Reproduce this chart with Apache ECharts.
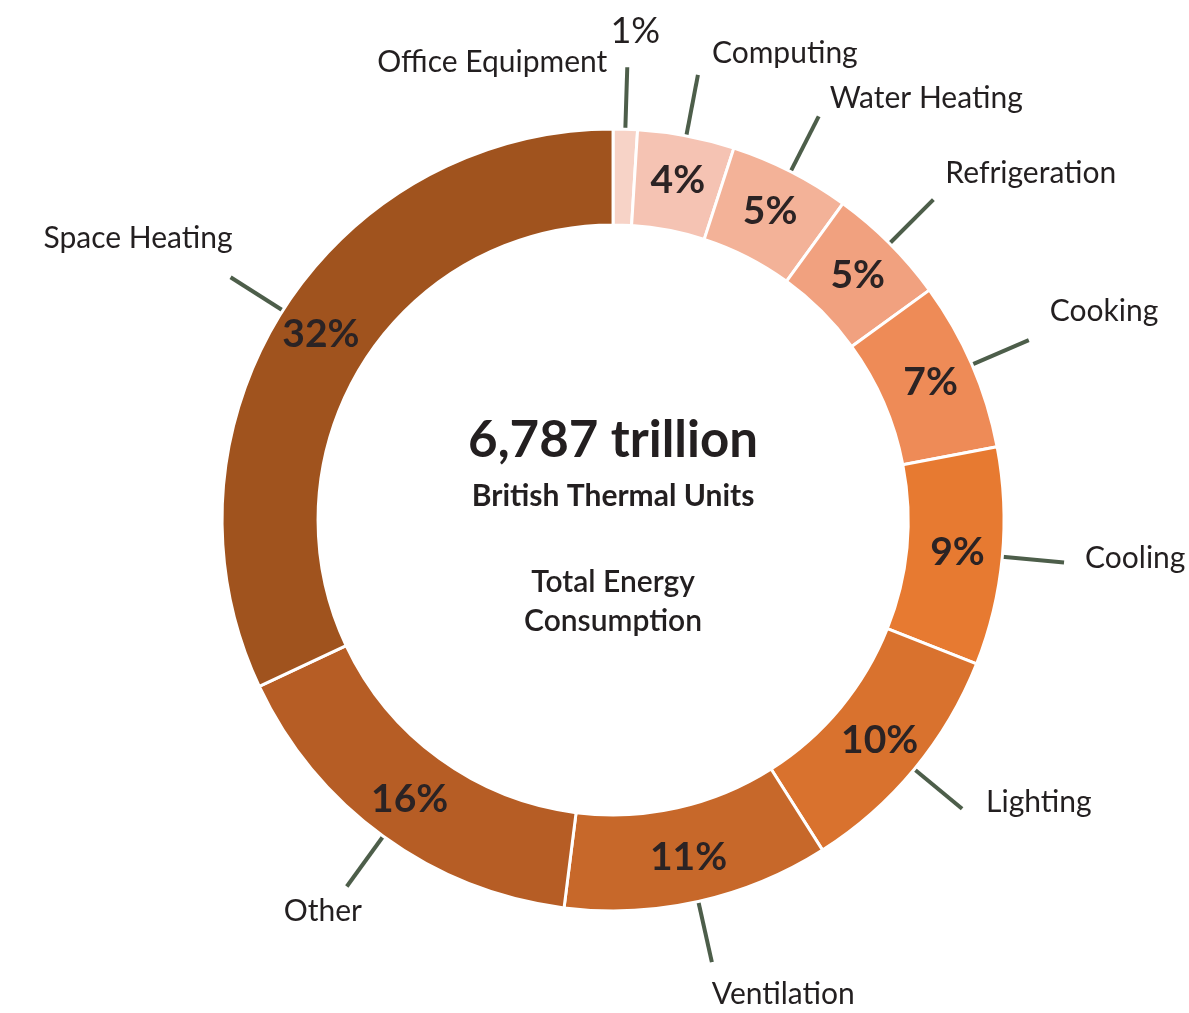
<!DOCTYPE html>
<html>
<head>
<meta charset="utf-8">
<script src="https://cdn.jsdelivr.net/npm/echarts@6/dist/echarts.min.js"></script>
<style>
  html, body { margin: 0; padding: 0; background: #ffffff; }
  #chart { width: 1189px; height: 1013px; }
</style>
</head>
<body>
<div id="chart"></div>
<script>
// ---- data ----
const categories = ['Office Equipment', 'Computing', 'Water Heating', 'Refrigeration', 'Cooking',
                    'Cooling', 'Lighting', 'Ventilation', 'Other', 'Space Heating'];
const shares = [1, 4, 5, 5, 7, 9, 10, 11, 16, 32];
const totalValue = '6,787 trillion';
const totalUnit = 'British Thermal Units';
const totalCaption = ['Total Energy', 'Consumption'];

// ---- styles ----
const colors = ['#f7d3c7', '#f5c3b3', '#f3b298', '#f1a17f', '#ee8b57',
                '#e77a31', '#d9722e', '#c7682a', '#b65d25', '#a0531e'];
// label anchor relative to end of leader line: [align, verticalAlign, dx, dy]
const nameAnchor = [
  ['right', 'middle', -20, -5],
  ['left', 'middle', 14, -22],
  ['left', 'middle', 11, -18],
  ['left', 'middle', 12, -26],
  ['left', 'middle', 21, -29],
  ['left', 'middle', 21, -4],
  ['left', 'middle', 24, -6],
  ['left', 'middle', 0, 32],
  ['center', 'middle', -24, 25],
  ['right', 'middle', 2, -39]
];
const smallPctAnchor = ['center', 'middle', 8, -36];

const FONT = 'Lato';
const center = ['51.56%', '51.33%'];

const chart = echarts.init(document.getElementById('chart'), null, { renderer: 'canvas' });

const mainData = categories.map((n, i) => ({ name: n, value: shares[i], itemStyle: { color: colors[i] } }));
const pctData = categories.map((n, i) => {
  const d = { name: n, value: shares[i] };
  if (i === 0) {
    d.label = { position: 'outside', fontWeight: 400, fontSize: 36, color: '#231f20' };
    d.labelLine = { show: true, length: 62, length2: 0, lineStyle: { width: 0, color: 'rgba(0,0,0,0)' } };
  }
  return d;
});

function anchorLayout(anchorFor) {
  return function (p) {
    const pts = p.labelLinePoints;
    const a = anchorFor(p.dataIndex);
    if (!pts || !a) return {};
    const end = pts[pts.length - 1];
    return { x: end[0] + a[2], y: end[1] + a[3], align: a[0], verticalAlign: a[1], labelLinePoints: pts };
  };
}

chart.setOption({
  backgroundColor: '#ffffff',
  animation: false,
  series: [
    {
      name: 'main',
      type: 'pie',
      center: center,
      radius: [295, 391],
      startAngle: 90,
      clockwise: true,
      avoidLabelOverlap: false,
      silent: true,
      itemStyle: { borderColor: '#ffffff', borderWidth: 3 },
      label: {
        show: true,
        position: 'outside',
        alignTo: 'none',
        formatter: '{b}',
        fontFamily: FONT,
        fontWeight: 400,
        fontSize: 30,
        color: '#231f20'
      },
      labelLine: {
        show: true,
        length: 62,
        length2: 0,
        smooth: false,
        lineStyle: { color: '#4d5e4a', width: 4, cap: 'butt' }
      },
      labelLayout: anchorLayout(i => nameAnchor[i]),
      data: mainData
    },
    {
      name: 'pct',
      type: 'pie',
      center: center,
      radius: [295, 391],
      startAngle: 90,
      clockwise: true,
      avoidLabelOverlap: false,
      silent: true,
      itemStyle: { color: 'rgba(0,0,0,0)', borderWidth: 0 },
      label: {
        show: true,
        position: 'inside',
        formatter: '{c}%',
        fontFamily: FONT,
        fontWeight: 700,
        fontSize: 39,
        color: '#2b2324'
      },
      labelLine: { show: false },
      labelLayout: anchorLayout(i => (i === 0 ? smallPctAnchor : null)),
      data: pctData
    },
    {
      name: 'center',
      type: 'pie',
      center: center,
      radius: [0, 1],
      silent: true,
      itemStyle: { color: 'rgba(0,0,0,0)' },
      label: {
        show: true,
        position: 'center',
        padding: [12, 0, 0, 0],
        formatter: ['{a|' + totalValue + '}', '{b|' + totalUnit + '}', '{g| }',
                    '{c|' + totalCaption[0] + '}', '{c|' + totalCaption[1] + '}'].join('\n'),
        rich: {
          a: { fontFamily: FONT, fontWeight: 700, fontSize: 51, lineHeight: 60, color: '#231f20' },
          b: { fontFamily: FONT, fontWeight: 700, fontSize: 30, lineHeight: 50, color: '#231f20' },
          g: { fontSize: 10, lineHeight: 42 },
          c: { fontFamily: FONT, fontWeight: 600, fontSize: 30, lineHeight: 39, color: '#231f20' }
        }
      },
      labelLine: { show: false },
      data: [{ name: 'total', value: 1 }]
    }
  ]
});
</script>
</body>
</html>
